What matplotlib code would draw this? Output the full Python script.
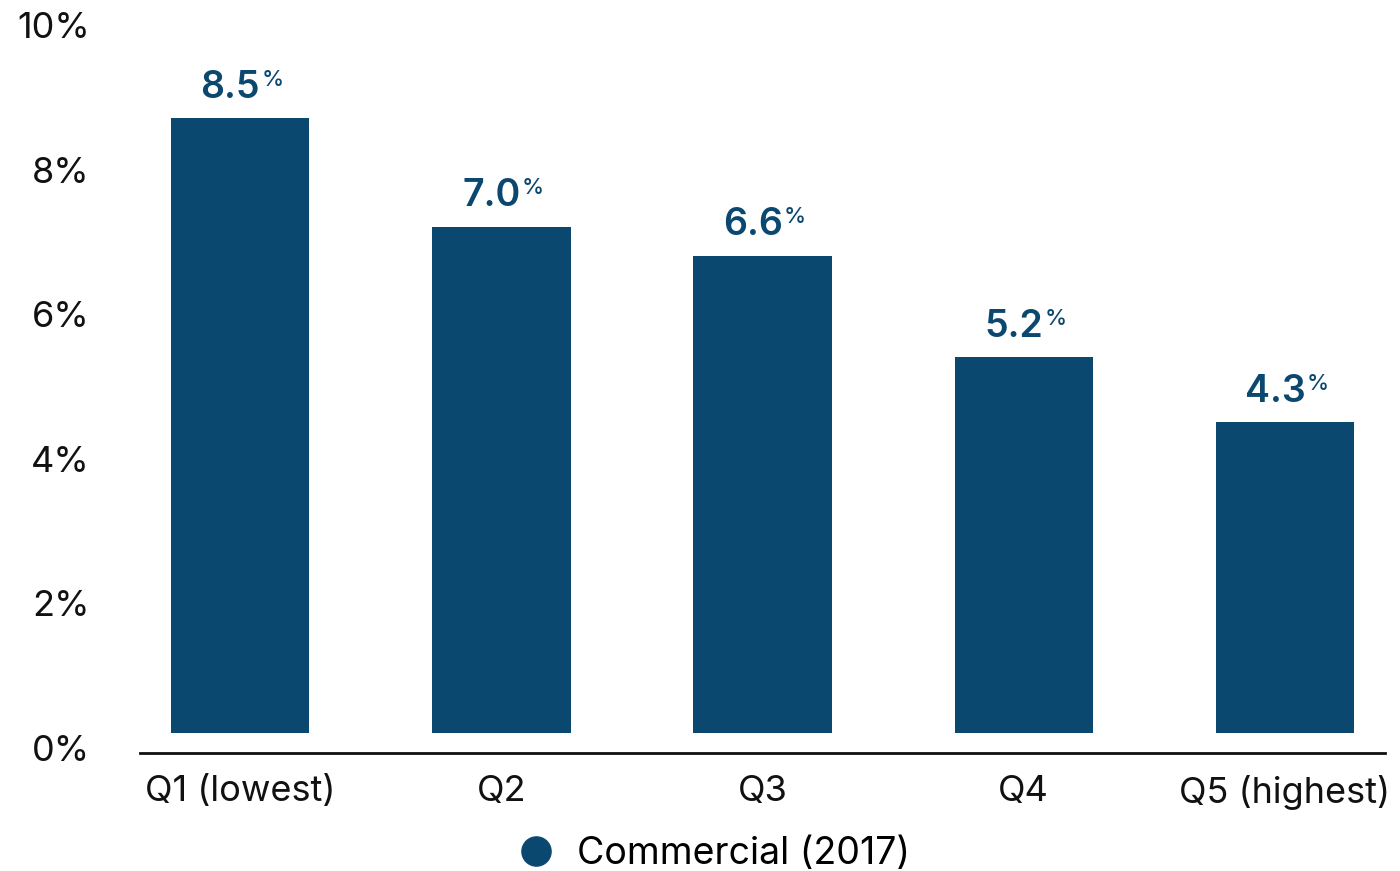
import matplotlib.pyplot as plt
from matplotlib.lines import Line2D
from matplotlib.transforms import ScaledTranslation
import numpy as np

plt.rcParams['font.family'] = ['Inter', 'DejaVu Sans']

quintiles = ['Q1 (lowest)', 'Q2', 'Q3', 'Q4', 'Q5 (highest)']
rates = [8.5, 7.0, 6.6, 5.2, 4.3]
yticks = [0, 2, 4, 6, 8, 10]
series_name = 'Commercial (2017)'

bar_color = '#0B4870'
text_color = '#111111'

fig = plt.figure(figsize=(14, 8.71), dpi=100)
ax = fig.add_axes([0.1, 0.1355, 0.8893, 0.853])

x = np.arange(len(quintiles))
bars = ax.bar(x, rates, width=0.53, color=bar_color, zorder=2)

ax.set_xlim(-0.383, len(quintiles) - 1 + 0.383)
ax.set_ylim(-0.277, 10)

ax.set_xticks(x)
ax.set_xticklabels(quintiles, fontsize=26, color=text_color)
ax.set_yticks(yticks)
ax.set_yticklabels([f'{t}%' for t in yticks], fontsize=26, color=text_color)
ax.tick_params(axis='x', length=0, pad=16)
ax.tick_params(axis='y', length=0, pad=36)

# y labels sit a little below their gridline positions
shift = ScaledTranslation(0, -15 / 100, fig.dpi_scale_trans)
for lbl in ax.get_yticklabels():
    lbl.set_transform(lbl.get_transform() + shift)

for side in ['top', 'right', 'left']:
    ax.spines[side].set_visible(False)
ax.spines['bottom'].set_linewidth(2)
ax.spines['bottom'].set_color(text_color)

# value labels with a small raised percent sign
for rect, val in zip(bars, rates):
    cx = rect.get_x() + rect.get_width() / 2
    num = ax.annotate(f'{val:.1f}', (cx, val), xytext=(-7, 9),
                      textcoords='offset points', ha='center', va='bottom',
                      fontsize=27, fontweight='semibold', color=bar_color)
    ax.annotate('%', xy=(1, 1), xycoords=num, xytext=(1, 0),
                textcoords='offset points', ha='left', va='top',
                fontsize=16, fontweight='medium', color=bar_color)

handle = Line2D([], [], marker='o', linestyle='none', markersize=21,
                markerfacecolor=bar_color, markeredgecolor=bar_color)
fig.legend([handle], [series_name], loc='center',
           bbox_to_anchor=(704 / 1400, 1 - 854 / 871), frameon=False,
           fontsize=27, handletextpad=0.1, borderaxespad=0)

plt.savefig('out.png')
plt.close()
